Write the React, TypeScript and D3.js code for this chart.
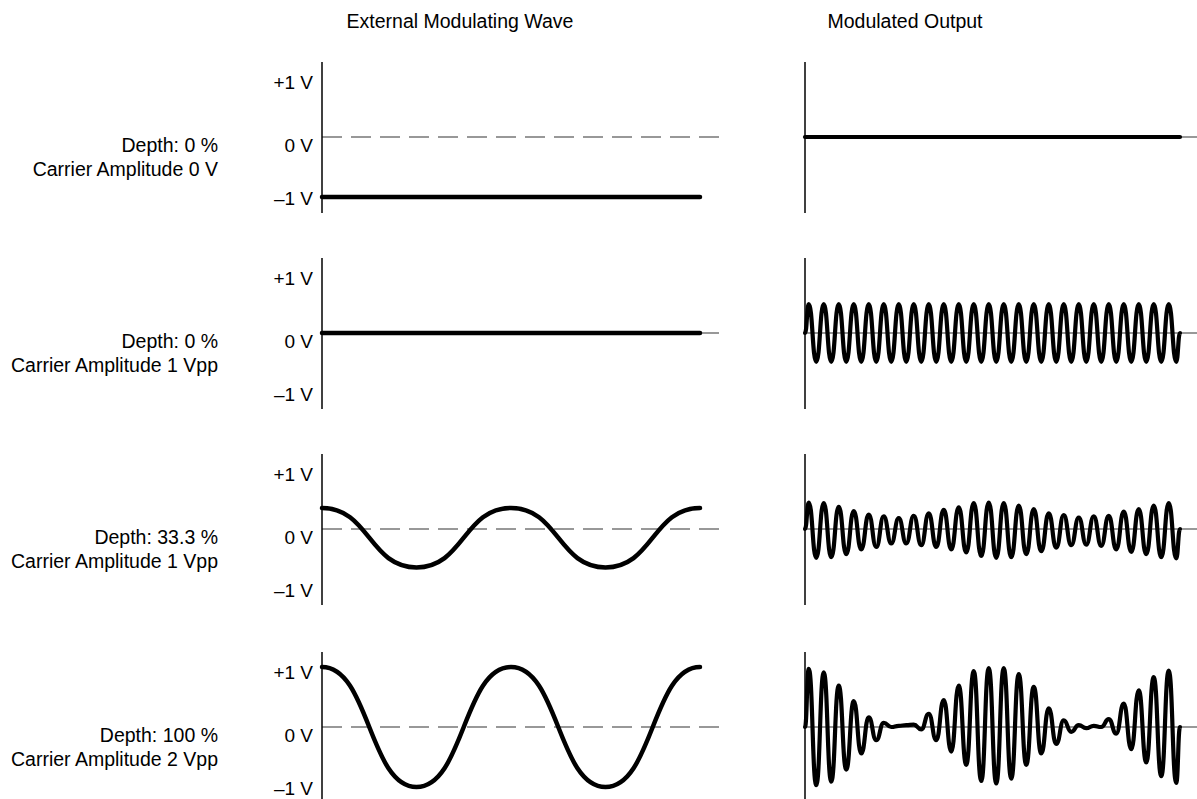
import React from "react";
import * as d3 from "d3";

// ---- data ----
const TITLES = ["External Modulating Wave", "Modulated Output"];
const ROW_DEPTH = ["Depth: 0 %", "Depth: 0 %", "Depth: 33.3 %", "Depth: 100 %"];
const ROW_CARRIER = [
  "Carrier Amplitude 0 V",
  "Carrier Amplitude 1 Vpp",
  "Carrier Amplitude 1 Vpp",
  "Carrier Amplitude 2 Vpp",
];
const Y_TICKS = [1, 0, -1];
const Y_TICK_LABELS = ["+1 V", "0 V", "–1 V"];

// External modulating wave: extrema positions (fraction of sweep) and values (V)
const MOD_T = [0, 0.25, 0.5, 0.75, 1];
const MOD_ROW1 = [-1, -1, -1, -1, -1];
const MOD_ROW2 = [0, 0, 0, 0, 0];
const MOD_ROW3 = [0.35, -0.64, 0.35, -0.64, 0.35];
const MOD_ROW4 = [1, -1, 1, -1, 1];

// Modulated output: 25 carrier cycles, amplitude of each positive peak and negative trough (V)
const CARRIER_CYCLES = 25;
const PEAK_ROW1 = [0,0,0,0,0,0,0,0,0,0,0,0,0,0,0,0,0,0,0,0,0,0,0,0,0];
const TROUGH_ROW1 = [0,0,0,0,0,0,0,0,0,0,0,0,0,0,0,0,0,0,0,0,0,0,0,0,0];
const PEAK_ROW2 = [0.48,0.48,0.48,0.48,0.48,0.48,0.48,0.48,0.48,0.48,0.48,0.48,0.48,0.48,0.48,0.48,0.48,0.48,0.48,0.48,0.48,0.48,0.48,0.48,0.48];
const TROUGH_ROW2 = [0.48,0.48,0.48,0.48,0.48,0.48,0.48,0.48,0.48,0.48,0.48,0.48,0.48,0.48,0.48,0.48,0.48,0.48,0.48,0.48,0.48,0.48,0.48,0.48,0.48];
const PEAK_ROW3 = [0.44,0.43,0.37,0.30,0.24,0.21,0.18,0.22,0.26,0.32,0.36,0.43,0.44,0.43,0.39,0.33,0.26,0.23,0.19,0.21,0.22,0.29,0.33,0.39,0.43];
const TROUGH_ROW3 = [0.48,0.47,0.42,0.34,0.30,0.24,0.24,0.27,0.30,0.34,0.39,0.45,0.48,0.47,0.42,0.37,0.31,0.27,0.26,0.28,0.34,0.38,0.42,0.47,0.49];
const PEAK_ROW4 = [0.97,0.91,0.69,0.43,0.16,0.07,0.02,0.04,0.22,0.45,0.69,0.93,0.98,0.98,0.88,0.67,0.31,0.11,0.03,0.02,0.13,0.39,0.61,0.83,0.94];
const TROUGH_ROW4 = [0.97,0.91,0.71,0.44,0.22,0.0,-0.03,0.04,0.22,0.41,0.63,0.90,0.94,0.86,0.63,0.44,0.28,0.08,0.02,0.0,0.11,0.37,0.59,0.82,0.93];

const MOD_ROWS = [MOD_ROW1, MOD_ROW2, MOD_ROW3, MOD_ROW4];
const PEAK_ROWS = [PEAK_ROW1, PEAK_ROW2, PEAK_ROW3, PEAK_ROW4];
const TROUGH_ROWS = [TROUGH_ROW1, TROUGH_ROW2, TROUGH_ROW3, TROUGH_ROW4];

// ---- layout ----
const W = 1197;
const H = 799;
const ROW_ZERO = [137, 333, 529, 727];
const PX_PER_V = 60;
const FONT = "'Liberation Sans', Arial, Helvetica, sans-serif";

const xL = d3.scaleLinear().domain([0, 1]).range([322, 700]);
const xR = d3.scaleLinear().domain([0, 1]).range([805, 1180]);
const LEFT_AXIS_X = 322;
const RIGHT_AXIS_X = 805;

type P = [number, number];

function carrierPoints(peaks: number[], troughs: number[]): P[] {
  const pts: P[] = [[0, 0]];
  for (let k = 0; k < CARRIER_CYCLES; k++) {
    pts.push([(k + 0.25) / CARRIER_CYCLES, peaks[k]]);
    pts.push([(k + 0.75) / CARRIER_CYCLES, -troughs[k]]);
  }
  pts.push([1, 0]);
  return pts;
}

export default function App() {
  return (
    <svg
      width={W}
      height={H}
      viewBox={`0 0 ${W} ${H}`}
      style={{ position: "absolute", left: 0, top: 0, background: "#fff" }}
      fontFamily={FONT}
    >
      <rect x={0} y={0} width={W} height={H} fill="#fff" />
      <text x={460} y={28} textAnchor="middle" fontSize={19.5} fill="#000">
        {TITLES[0]}
      </text>
      <text x={905} y={28} textAnchor="middle" fontSize={19.5} fill="#000">
        {TITLES[1]}
      </text>

      {ROW_ZERO.map((z, i) => {
        const y = d3.scaleLinear().domain([-1, 1]).range([z + PX_PER_V, z - PX_PER_V]);
        const modLine = d3
          .line<P>()
          .x((d) => xL(d[0]))
          .y((d) => y(d[1]))
          .curve(d3.curveBumpX);
        const outLine = d3
          .line<P>()
          .x((d) => xR(d[0]))
          .y((d) => y(d[1]))
          .curve(d3.curveBumpX);
        const modPts: P[] = MOD_T.map((t, j) => [t, MOD_ROWS[i][j]]);
        const outPts = carrierPoints(PEAK_ROWS[i], TROUGH_ROWS[i]);
        const tickDy = [-48, 15, 68];
        return (
          <g key={i}>
            {/* row labels */}
            <text x={218} y={z + 15} textAnchor="end" fontSize={19.5} fill="#000">
              {ROW_DEPTH[i]}
            </text>
            <text x={218} y={z + 39} textAnchor="end" fontSize={19.5} fill="#000">
              {ROW_CARRIER[i]}
            </text>
            {/* y tick labels */}
            {Y_TICKS.map((v, k) => (
              <text key={k} x={313} y={z + tickDy[k]} textAnchor="end" fontSize={19} fill="#000">
                {Y_TICK_LABELS[k]}
              </text>
            ))}
            {/* left panel */}
            <line
              x1={LEFT_AXIS_X}
              x2={720}
              y1={y(0)}
              y2={y(0)}
              stroke="#777"
              strokeWidth={1.5}
              strokeDasharray="20 9"
            />
            <line x1={LEFT_AXIS_X} x2={LEFT_AXIS_X} y1={z - 75} y2={z + 76} stroke="#000" strokeWidth={1.5} />
            <path d={modLine(modPts) || ""} fill="none" stroke="#000" strokeWidth={4.5} strokeLinecap="round" />
            {/* right panel */}
            <line x1={RIGHT_AXIS_X} x2={W} y1={y(0)} y2={y(0)} stroke="#333" strokeWidth={1.2} />
            <line x1={RIGHT_AXIS_X} x2={RIGHT_AXIS_X} y1={z - 75} y2={z + 76} stroke="#000" strokeWidth={1.5} />
            <path d={outLine(outPts) || ""} fill="none" stroke="#000" strokeWidth={4.2} strokeLinejoin="round" strokeLinecap="round" />
          </g>
        );
      })}
    </svg>
  );
}
